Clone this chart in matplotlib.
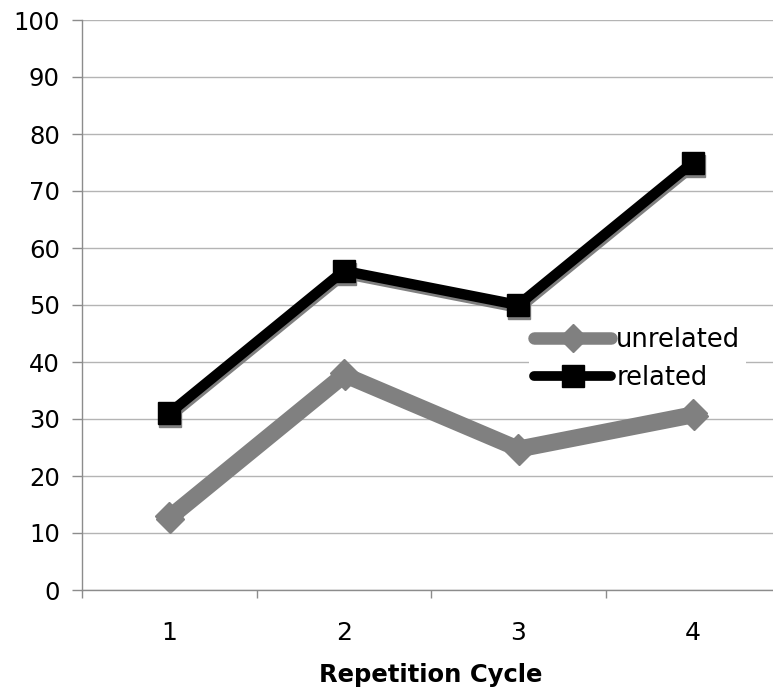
import matplotlib
matplotlib.use("Agg")
import matplotlib.pyplot as plt
from matplotlib.lines import Line2D
from matplotlib.transforms import ScaledTranslation

cycles = [1, 2, 3, 4]
cycle_labels = ["1", "2", "3", "4"]
unrelated = [13, 38, 25, 31]
related = [31, 56, 50, 75]
y_ticks = [0, 10, 20, 30, 40, 50, 60, 70, 80, 90, 100]

fig = plt.figure(figsize=(7.73, 6.96), dpi=100)
ax = fig.add_axes([82/773, 106/696, 698/773, 570/696])

shift = ax.transData + ScaledTranslation(1/100, -3/100, fig.dpi_scale_trans)

u_style = dict(lw=10, marker="D", markersize=14, solid_joinstyle="miter")
r_style = dict(lw=7.5, marker="s", markersize=16, solid_joinstyle="miter")

# shadows
ax.plot(cycles, unrelated, color="#808080", mec="#808080", transform=shift, zorder=2, **u_style)
ax.plot(cycles, related, color="#808080", mec="#808080", transform=shift, zorder=3, **r_style)
# main lines
ax.plot(cycles, unrelated, color="#808080", mec="#808080", zorder=2.5, **u_style)
ax.plot(cycles, related, color="black", mec="black", zorder=3.5, **r_style)

ax.set_xlim(0.5, 4.5)
ax.set_ylim(0, 100)
ax.set_yticks(y_ticks)
ax.set_yticklabels([str(v) for v in y_ticks])
ax.set_xticks(cycles)
ax.set_xticklabels(cycle_labels)
ax.set_xticks([0.5, 1.5, 2.5, 3.5, 4.5], minor=True)

ax.grid(axis="y", color="#b4b4b4", lw=1.0, zorder=0)
ax.set_axisbelow(True)

for s in ["top", "right"]:
    ax.spines[s].set_visible(False)
for s in ["left", "bottom"]:
    ax.spines[s].set_color("#8c8c8c")
    ax.spines[s].set_linewidth(1.0)

ax.tick_params(axis="y", which="major", length=7, width=1, color="#8c8c8c",
               labelsize=17.5, pad=9, direction="out")
ax.tick_params(axis="x", which="major", length=0, labelsize=18, pad=22)
ax.tick_params(axis="x", which="minor", length=6, width=1, color="#8c8c8c",
               direction="out")

ax.set_xlabel("Repetition Cycle", fontsize=17.5, fontweight="bold", labelpad=13)

handles = [
    Line2D([], [], color="#808080", lw=9, marker="D", markersize=14,
           mec="#808080", solid_capstyle="round"),
    Line2D([], [], color="black", lw=7, marker="s", markersize=16,
           mec="black", solid_capstyle="round"),
]
leg = ax.legend(handles, ["unrelated", "related"], loc="center left",
                bbox_to_anchor=(0.622, 0.405), fontsize=18.5,
                frameon=True, framealpha=1, facecolor="white", edgecolor="none",
                handlelength=3.0, handletextpad=0.2, labelspacing=0.45,
                borderpad=0.2, fancybox=False)

fig.savefig("out.png", dpi=100)
